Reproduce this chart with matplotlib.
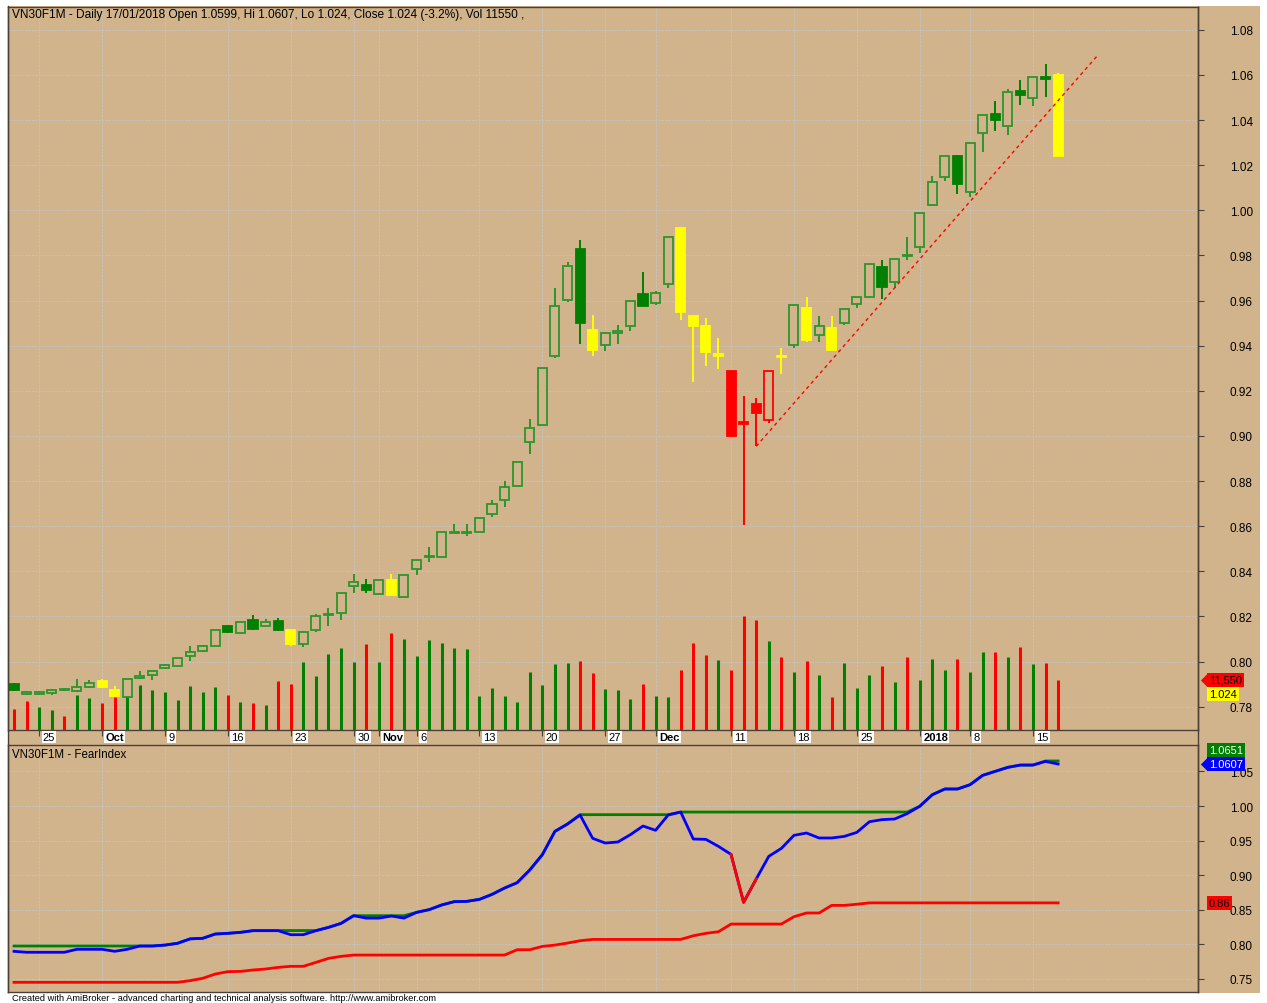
import matplotlib
matplotlib.use('Agg')
import matplotlib.pyplot as plt
import matplotlib.transforms as mtransforms
from matplotlib.patches import Rectangle
from matplotlib.lines import Line2D

plt.rcParams['font.family'] = ['Liberation Sans', 'DejaVu Sans']

# ---- data (VN30F1M daily, 21/09/2017 - 17/01/2018) ----
opens = [0.7902, 0.7857, 0.7858, 0.7863, 0.7874, 0.7869, 0.7888, 0.7912, 0.7876, 0.7845,
         0.7926, 0.7942, 0.7972, 0.7981, 0.8026, 0.8047, 0.8070, 0.8158, 0.8127, 0.8184,
         0.8160, 0.8180, 0.8140, 0.8080, 0.8142, 0.8205, 0.8214, 0.8334, 0.8341, 0.8300,
         0.8361, 0.8285, 0.8409, 0.8463, 0.8463, 0.8570, 0.8571, 0.8576, 0.8653, 0.8716,
         0.8780, 0.8975, 0.9050, 0.9353, 0.9603, 0.9830, 0.9470, 0.9405, 0.9456, 0.9486,
         0.9630, 0.9589, 0.9672, 0.9920, 0.9530, 0.9489, 0.9353, 0.9289, 0.9062, 0.9140,
         0.9069, 0.9352, 0.9403, 0.9566, 0.9448, 0.9477, 0.9501, 0.9583, 0.9615, 0.9751,
         0.9681, 0.9797, 0.9836, 1.0023, 1.0149, 1.0239, 1.0082, 1.0342, 1.0427, 1.0372,
         1.0530, 1.0499, 1.0591, 1.0599]
highs = [0.7907, 0.7870, 0.7872, 0.7880, 0.7882, 0.7923, 0.7920, 0.7923, 0.7894, 0.7923,
         0.7957, 0.7960, 0.7988, 0.8017, 0.8068, 0.8072, 0.8140, 0.8163, 0.8177, 0.8207,
         0.8189, 0.8192, 0.8140, 0.8137, 0.8211, 0.8236, 0.8302, 0.8390, 0.8366, 0.8360,
         0.8390, 0.8382, 0.8449, 0.8507, 0.8573, 0.8609, 0.8609, 0.8638, 0.8716, 0.8801,
         0.8886, 0.9075, 0.9301, 0.9654, 0.9772, 0.9870, 0.9536, 0.9458, 0.9492, 0.9599,
         0.9725, 0.9641, 0.9882, 0.9920, 0.9530, 0.9523, 0.9433, 0.9289, 0.9176, 0.9168,
         0.9286, 0.9388, 0.9579, 0.9614, 0.9531, 0.9531, 0.9562, 0.9614, 0.9760, 0.9782,
         0.9786, 0.9882, 0.9988, 1.0151, 1.0239, 1.0245, 1.0300, 1.0422, 1.0483, 1.0537,
         1.0577, 1.0591, 1.0648, 1.0607]
lows = [0.7870, 0.7850, 0.7852, 0.7850, 0.7872, 0.7865, 0.7885, 0.7882, 0.7845, 0.7845,
        0.7923, 0.7920, 0.7966, 0.7981, 0.8004, 0.8043, 0.8070, 0.8127, 0.8124, 0.8142,
        0.8157, 0.8135, 0.8071, 0.8065, 0.8130, 0.8160, 0.8184, 0.8304, 0.8304, 0.8300,
        0.8297, 0.8285, 0.8382, 0.8443, 0.8463, 0.8568, 0.8558, 0.8576, 0.8640, 0.8687,
        0.8778, 0.8920, 0.9050, 0.9344, 0.9595, 0.9408, 0.9356, 0.9378, 0.9408, 0.9467,
        0.9577, 0.9580, 0.9654, 0.9515, 0.9238, 0.9312, 0.9297, 0.9001, 0.8607, 0.8954,
        0.9058, 0.9275, 0.9388, 0.9416, 0.9418, 0.9379, 0.9493, 0.9565, 0.9615, 0.9606,
        0.9655, 0.9781, 0.9811, 1.0020, 1.0130, 1.0072, 1.0060, 1.0257, 1.0351, 1.0334,
        1.0468, 1.0463, 1.0500, 1.0240]
closes = [0.7876, 0.7865, 0.7866, 0.7876, 0.7878, 0.7887, 0.7906, 0.7887, 0.7847, 0.7923,
          0.7937, 0.7957, 0.7986, 0.8017, 0.8041, 0.8070, 0.8140, 0.8133, 0.8175, 0.8145,
          0.8175, 0.8138, 0.8080, 0.8132, 0.8204, 0.8208, 0.8302, 0.8353, 0.8319, 0.8360,
          0.8297, 0.8382, 0.8449, 0.8470, 0.8573, 0.8573, 0.8575, 0.8638, 0.8697, 0.8773,
          0.8886, 0.9034, 0.9301, 0.9577, 0.9752, 0.9501, 0.9382, 0.9458, 0.9467, 0.9599,
          0.9577, 0.9635, 0.9882, 0.9548, 0.9486, 0.9373, 0.9363, 0.9001, 0.9055, 0.9102,
          0.9286, 0.9355, 0.9579, 0.9426, 0.9486, 0.9379, 0.9562, 0.9614, 0.9760, 0.9661,
          0.9786, 0.9801, 0.9988, 1.0127, 1.0239, 1.0117, 1.0300, 1.0422, 1.0399, 1.0525,
          1.0511, 1.0591, 1.0580, 1.0240]
# candle colour per bar: g = green, y = yellow, r = red
candle_col = ['g', 'g', 'g', 'g', 'g', 'g', 'g', 'y', 'y', 'g',
              'g', 'g', 'g', 'g', 'g', 'g', 'g', 'g', 'g', 'g',
              'g', 'g', 'y', 'g', 'g', 'g', 'g', 'g', 'g', 'g',
              'y', 'g', 'g', 'g', 'g', 'g', 'g', 'g', 'g', 'g',
              'g', 'g', 'g', 'g', 'g', 'g', 'y', 'g', 'g', 'g',
              'g', 'g', 'g', 'y', 'y', 'y', 'y', 'r', 'r', 'r',
              'r', 'y', 'g', 'y', 'g', 'y', 'g', 'g', 'g', 'g',
              'g', 'g', 'g', 'g', 'g', 'g', 'g', 'g', 'g', 'g',
              'g', 'g', 'g', 'y']
volume = [4850, 6700, 5310, 4620, 3230, 8090, 7390, 6240, 7620, 8090,
          10400, 9240, 8780, 6930, 10160, 8780, 9930, 8090, 6470, 6240,
          5780, 11320, 10630, 15710, 12470, 17560, 18940, 15710, 19870, 15710,
          22410, 21020, 17090, 20790, 20100, 18940, 18710, 7850, 9700, 7850,
          6470, 13400, 10400, 15250, 15480, 15940, 13170, 9470, 9240, 7160,
          10630, 7850, 7620, 13860, 20100, 17330, 16170, 13860, 26330, 25410,
          20560, 16860, 13400, 15940, 12710, 7620, 15480, 9700, 12710, 14780,
          11090, 16860, 11550, 16400, 13860, 16400, 13400, 18020, 18020, 16860,
          19170, 15250, 15480, 11550]
vol_col = ['r', 'r', 'g', 'g', 'r', 'g', 'g', 'r', 'r', 'g',
           'g', 'g', 'g', 'g', 'g', 'g', 'g', 'r', 'g', 'r',
           'g', 'r', 'r', 'g', 'g', 'g', 'g', 'g', 'r', 'g',
           'r', 'g', 'g', 'g', 'g', 'g', 'g', 'g', 'g', 'g',
           'g', 'g', 'g', 'g', 'g', 'r', 'r', 'g', 'g', 'g',
           'r', 'g', 'g', 'r', 'r', 'r', 'g', 'r', 'r', 'r',
           'g', 'r', 'g', 'r', 'g', 'r', 'g', 'g', 'g', 'r',
           'g', 'r', 'g', 'g', 'g', 'r', 'g', 'g', 'r', 'g',
           'r', 'g', 'r', 'r']

fear = [0.7900, 0.7886, 0.7886, 0.7886, 0.7886, 0.7929, 0.7929, 0.7929, 0.7900, 0.7929,
        0.7977, 0.7977, 0.7990, 0.8016, 0.8080, 0.8088, 0.8150, 0.8160, 0.8174, 0.8198,
        0.8198, 0.8198, 0.8140, 0.8140, 0.8198, 0.8246, 0.8304, 0.8415, 0.8380, 0.8380,
        0.8410, 0.8380, 0.8463, 0.8502, 0.8570, 0.8618, 0.8622, 0.8651, 0.8723, 0.8815,
        0.8892, 0.9075, 0.9297, 0.9634, 0.9740, 0.9870, 0.9533, 0.9465, 0.9480, 0.9586,
        0.9711, 0.9649, 0.9870, 0.9913, 0.9523, 0.9518, 0.9417, 0.9301, 0.8608, 0.8945,
        0.9273, 0.9388, 0.9576, 0.9610, 0.9538, 0.9538, 0.9561, 0.9619, 0.9773, 0.9803,
        0.9812, 0.9890, 0.9996, 1.0164, 1.0246, 1.0246, 1.0308, 1.0443, 1.0501, 1.0559,
        1.0592, 1.0592, 1.0645, 1.0607]
fear_peak = [0.7977, 0.7977, 0.7977, 0.7977, 0.7977, 0.7977, 0.7977, 0.7977, 0.7977, 0.7977,
             0.7977, 0.7977, 0.7990, 0.8016, 0.8080, 0.8088, 0.8150, 0.8160, 0.8174, 0.8200,
             0.8200, 0.8200, 0.8200, 0.8200, 0.8200, 0.8246, 0.8304, 0.8415, 0.8415, 0.8415,
             0.8415, 0.8415, 0.8463, 0.8502, 0.8570, 0.8618, 0.8622, 0.8651, 0.8723, 0.8815,
             0.8892, 0.9075, 0.9297, 0.9634, 0.9740, 0.9875, 0.9875, 0.9875, 0.9875, 0.9875,
             0.9875, 0.9875, 0.9875, 0.9913, 0.9913, 0.9913, 0.9913, 0.9913, 0.9913, 0.9913,
             0.9913, 0.9913, 0.9913, 0.9913, 0.9913, 0.9913, 0.9913, 0.9913, 0.9913, 0.9913,
             0.9913, 0.9913, 0.9996, 1.0164, 1.0246, 1.0246, 1.0308, 1.0443, 1.0501, 1.0559,
             1.0592, 1.0592, 1.0651, 1.0651]
fear_stop = [0.7452, 0.7452, 0.7452, 0.7452, 0.7452, 0.7452, 0.7452, 0.7452, 0.7452, 0.7452,
             0.7452, 0.7452, 0.7452, 0.7452, 0.7476, 0.7510, 0.7572, 0.7606, 0.7610, 0.7630,
             0.7644, 0.7668, 0.7683, 0.7683, 0.7740, 0.7798, 0.7827, 0.7846, 0.7846, 0.7846,
             0.7846, 0.7846, 0.7846, 0.7846, 0.7846, 0.7846, 0.7846, 0.7846, 0.7846, 0.7846,
             0.7923, 0.7923, 0.7971, 0.7990, 0.8019, 0.8053, 0.8072, 0.8072, 0.8072, 0.8072,
             0.8072, 0.8072, 0.8072, 0.8072, 0.8125, 0.8160, 0.8183, 0.8294, 0.8294, 0.8294,
             0.8294, 0.8294, 0.8400, 0.8454, 0.8454, 0.8564, 0.8564, 0.8580, 0.8600, 0.8600,
             0.8600, 0.8600, 0.8600, 0.8600, 0.8600, 0.8600, 0.8600, 0.8600, 0.8600, 0.8600,
             0.8600, 0.8600, 0.8600, 0.8600]
fear_drop = [57, 58, 59]          # bars where the FearIndex line turns red

# trend line (red dotted) from the 12/12 low up to the right edge
trend_bars = [59, 86.1]
trend_vals = [0.8954, 1.0684]

tick_idx = [2, 7, 12, 17, 22, 27, 29, 32, 37, 42, 47, 51, 57, 62, 67, 72, 76, 81]
tick_lbl = ['25', 'Oct', '9', '16', '23', '30', 'Nov', '6', '13', '20', '27', 'Dec',
            '11', '18', '25', '2018', '8', '15']
bold_lbl = ['Oct', 'Nov', 'Dec', '2018']

price_ticks = [0.78, 0.80, 0.82, 0.84, 0.86, 0.88, 0.90, 0.92, 0.94, 0.96, 0.98, 1.00,
               1.02, 1.04, 1.06, 1.08]
fear_ticks = [0.75, 0.80, 0.85, 0.90, 0.95, 1.00, 1.05]

title = ('VN30F1M - Daily 17/01/2018 Open 1.0599, Hi 1.0607, Lo 1.024, '
         'Close 1.024 (-3.2%), Vol 11550 ,')

TAN = '#d2b48c'
GREEN = '#008000'
HOLLOW = '#2b962b'
YELLOW = '#ffff00'
RED = '#ff0000'
BLUE = '#0000ff'
GRID = '#c6c2bb'
AXIS = '#4a4036'
cmap = {'g': GREEN, 'y': YELLOW, 'r': RED}

W, H = 1267, 1004
fig = plt.figure(figsize=(W / 100, H / 100), dpi=100, facecolor='white')


def fx(x):
    return x / W


def fy(y):
    return 1 - y / H


fig.patches.append(Rectangle((fx(8), fy(994)), fx(1260) - fx(8), fy(7) - fy(994),
                             transform=fig.transFigure, fc=TAN, ec='none', zorder=-5))

n = len(closes)
xs = list(range(n))
XMIN, XMAX = -0.477, 94.12
PMIN, PMAX = 0.7697, 1.0901

# ---- upper pane: grid/axis layer, volume layer, candle layer ----
rect1 = [fx(8), fy(731), fx(1198) - fx(8), fy(8) - fy(731)]
ax1 = fig.add_axes(rect1)
ax1.patch.set_visible(False)
ax1.set_xlim(XMIN, XMAX)
ax1.set_ylim(PMIN, PMAX)

axv = fig.add_axes(rect1)
axv.axis('off')
axv.set_xlim(XMIN, XMAX)
axv.set_ylim(0, 167000)
axv.vlines(xs, 0, volume, colors=[cmap[c] for c in vol_col], lw=2.2)

axc = fig.add_axes(rect1)
axc.axis('off')
axc.set_xlim(XMIN, XMAX)
axc.set_ylim(PMIN, PMAX)

for i in range(n):
    o, h, l, c = opens[i], highs[i], lows[i], closes[i]
    col = cmap[candle_col[i]]
    up = c >= o
    edge = HOLLOW if (candle_col[i] == 'g' and up) else col
    axc.vlines(i, l, h, color=edge, lw=1.4, zorder=2)
    bot, top = min(o, c), max(o, c)
    axc.add_patch(Rectangle((i - 0.36, bot), 0.72, max(top - bot, 0.0004),
                            fc=TAN if up else col, ec=edge, lw=1.3, zorder=3))

axc.plot(trend_bars, trend_vals, color=RED, lw=1, ls=(0, (2.5, 2.5)), zorder=4)

ax1.yaxis.tick_right()
ax1.set_yticks(price_ticks)
ax1.set_yticklabels([f'{v:.2f}' for v in price_ticks])
ax1.set_xticks(tick_idx)
ax1.set_xticklabels([])
ax1.tick_params(axis='y', direction='out', length=4, pad=19, labelsize=8.5,
                color=AXIS, labelcolor='black')
ax1.tick_params(axis='x', direction='out', length=4, color=AXIS)
ax1.grid(True, color=GRID, lw=0.8, ls=(0, (2, 1)), zorder=0)
for s in ax1.spines.values():
    s.set_color(AXIS)
    s.set_linewidth(1)

for idx, lbl in zip(tick_idx, tick_lbl):
    ax1.annotate(lbl, xy=(idx, 0), xycoords=('data', 'axes fraction'),
                 xytext=(2.5, -5.2), textcoords='offset points', ha='left', va='center',
                 fontsize=8, fontweight='bold' if lbl in bold_lbl else 'normal',
                 bbox=dict(boxstyle='square,pad=0.1', fc='white', ec='none'),
                 annotation_clip=False)

# ---- lower pane: FearIndex ----
ax2 = fig.add_axes([fx(8), fy(993), fx(1198) - fx(8), fy(746) - fy(993)])
ax2.patch.set_visible(False)
ax2.set_xlim(XMIN, XMAX)
ax2.set_ylim(0.7312, 1.0882)
ax2.plot(xs, fear_stop, color=RED, lw=2, zorder=3)
ax2.plot(xs, fear_peak, color=GREEN, lw=2, zorder=3)
ax2.plot(xs, fear, color=BLUE, lw=2, zorder=4)
ax2.plot(fear_drop, [fear[i] for i in fear_drop], color=RED, lw=2, zorder=5)
ax2.yaxis.tick_right()
ax2.set_yticks(fear_ticks)
ax2.set_yticklabels([f'{v:.2f}' for v in fear_ticks])
ax2.set_xticks(tick_idx)
ax2.set_xticklabels([])
ax2.tick_params(axis='y', direction='out', length=4, pad=19, labelsize=8.5,
                color=AXIS, labelcolor='black')
ax2.tick_params(axis='x', length=0)
ax2.grid(True, color=GRID, lw=0.8, ls=(0, (2, 1)), zorder=0)
ax2.set_axisbelow(True)
for s in ax2.spines.values():
    s.set_color(AXIS)
    s.set_linewidth(1)

ARROW = [(-1, 0), (0, 1), (0, -1), (-1, 0)]


def tag(ax, val, text, fc, tc, arrow=False, dy=0):
    tr = mtransforms.blended_transform_factory(ax.transAxes, ax.transData)
    ax.annotate(text, xy=(1, val), xycoords=tr, xytext=(8, dy), textcoords='offset points',
                ha='left', va='center', fontsize=8, color=tc,
                bbox=dict(boxstyle='square,pad=0.15', fc=fc, ec='none'),
                annotation_clip=False, zorder=10)
    if arrow:
        off = mtransforms.offset_copy(tr, fig=fig, x=6.6, y=dy, units='points')
        ax.plot([1], [val], marker=ARROW, ms=9.5, color=fc, mec='none',
                transform=off, clip_on=False, zorder=10)


tag(axv, volume[-1], f'{volume[-1]:,}', RED, 'black', arrow=True)
tag(axv, volume[-1], f'{closes[-1]:.3f}', YELLOW, 'black', dy=-10)
tag(ax2, fear_peak[-1], f'{fear_peak[-1]:.4f}', GREEN, 'white', dy=8)
tag(ax2, fear[-1], f'{fear[-1]:.4f}', BLUE, 'white', arrow=True)
tag(ax2, fear_stop[-1], f'{fear_stop[-1]:.2f}', RED, 'black')

# frame lines through the date strip
fig.add_artist(Line2D([fx(8), fx(8)], [fy(7), fy(993)], color=AXIS, lw=1))
fig.add_artist(Line2D([fx(1198), fx(1198)], [fy(8), fy(993)], color=AXIS, lw=1))

fig.text(fx(12), fy(15), title, fontsize=8.6, va='center', ha='left')
fig.text(fx(12), fy(755), 'VN30F1M - FearIndex', fontsize=8.3, va='center', ha='left')
fig.text(fx(12), fy(999), 'Created with AmiBroker - advanced charting and technical '
         'analysis software. http://www.amibroker.com', fontsize=6.7, va='center', ha='left')

fig.savefig('out.png', dpi=100, facecolor='white')
